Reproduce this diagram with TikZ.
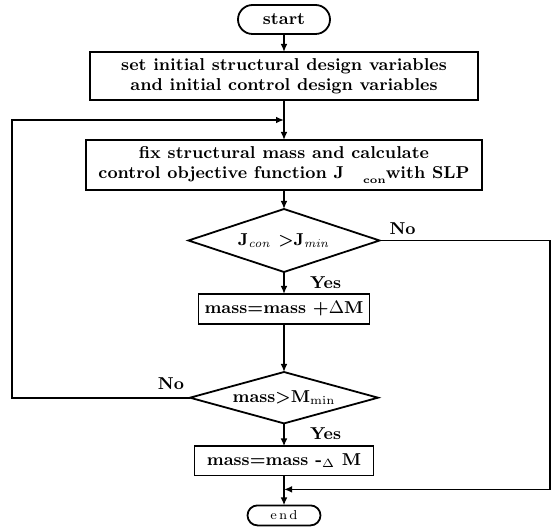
\documentclass[tikz,border=0pt]{standalone}
\usepackage{amsmath}
\usepackage{tikz}
\usetikzlibrary{shapes.geometric, shapes.misc, arrows.meta, positioning}

\begin{document}
\begin{tikzpicture}[
    >={Latex[length=4pt,width=3.4pt]},
    line width=0.9pt,
    every node/.style={outer sep=0pt},
    procbox/.style={draw, rectangle, minimum height=15pt, inner sep=1pt,
                    font=\fontsize{8.6}{10}\selectfont\bfseries, align=center},
    termbox/.style={draw, rounded rectangle, minimum height=14pt, inner sep=1pt,
                    font=\fontsize{8.6}{10}\selectfont\bfseries},
    decbox/.style={draw, diamond, inner sep=0pt,
                   font=\fontsize{8.6}{10}\selectfont\bfseries},
    lbl/.style={font=\fontsize{8.6}{10}\selectfont\bfseries, inner sep=1pt},
    arr/.style={->},
]
\useasboundingbox (0,0) rectangle (276pt,-264.5pt);

% === Main column ===
\node[termbox, minimum width=48pt, minimum height=14.5pt] (start) at (142pt,-9.75pt) {start};
\node[procbox, below=9pt of start, minimum width=194pt, minimum height=24pt] (init)
    {set initial structural design variables\\and initial control design variables};
\coordinate[below=10pt of init] (merge);
\node[procbox, below=20pt of init, minimum width=198pt, minimum height=25pt] (slp)
    {fix structural mass and calculate\\control objective function J\hspace{1.1em}\raisebox{-0.6ex}{\fontsize{5}{6}\selectfont con}with SLP};
\node[decbox, aspect=3.3, below=9.5pt of slp, minimum width=95.5pt, minimum height=31.5pt] (jchk)
    {J$_{\mathit{con}}$ >J$_{\mathit{min}}$};
\node[procbox, below=11pt of jchk, minimum width=85.5pt] (inc) {mass=mass +$\Delta$M};
\node[decbox, aspect=3.76, below=24pt of inc, minimum width=94pt, minimum height=25.7pt] (mchk)
    {mass>M$_{\mathrm{min}}$};
\node[procbox, below=11.5pt of mchk, minimum width=89.5pt, minimum height=14.5pt] (dec)
    {mass=mass -$_{\Delta}$ M};
\coordinate[below=7pt of dec] (ret);
\node[termbox, below=15pt of dec, minimum width=38.5pt, minimum height=10pt,
      font=\fontsize{6.5}{8}\selectfont] (stop) {e\,n\,d};

% side rails
\coordinate (lft) at (6pt,0);
\coordinate (rgt) at (275pt,0);

\draw[arr] (start) -- (init);
\draw[arr] (init) -- (slp);
\draw[arr] (slp) -- (jchk);
\draw[arr] (jchk) -- (inc) node[lbl, pos=0.5, right=12pt] {Yes};
\draw[arr] (inc) -- (mchk);
\draw[arr] (mchk) -- (dec) node[lbl, pos=0.45, right=12pt] {Yes};
\draw[arr] (dec) -- (stop);

% === Loops ===
\draw[arr] (mchk.west) -- (mchk.west -| lft) |- (merge);
\node[lbl, above left=3pt and 2pt of mchk.west] {No};
\draw[arr] (jchk.east) -- (jchk.east -| rgt) |- (ret);
\node[lbl, above right=2pt and 4pt of jchk.east] {No};

\end{tikzpicture}
\end{document}
